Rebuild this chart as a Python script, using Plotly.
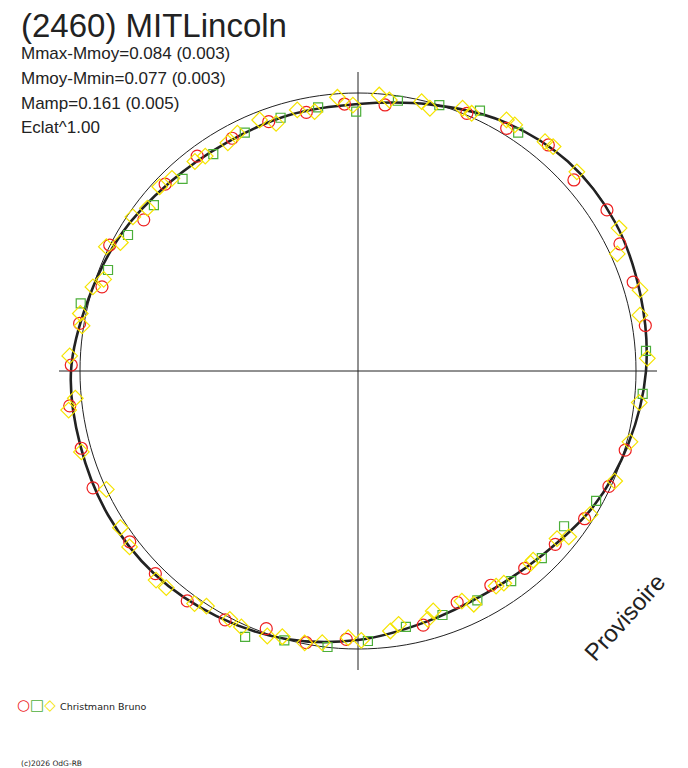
import numpy as np
from plotly import graph_objects as go

# fitted lightcurve, read every 15 deg (angle in deg, radius in plot units)
curve_angle = [0, 15, 30, 45, 60, 75, 90, 105, 120, 135, 150, 165,
               180, 195, 210, 225, 240, 255, 270, 285, 300, 315, 330, 345]
curve_r = [288, 292.5, 297, 296.5, 288.5, 276, 267, 265, 263.5, 266.5, 273.5, 279,
           287, 287.5, 288.5, 287.5, 283, 277.5, 269, 260, 256.5, 260.5, 271.5, 280]

ref_r = 278  # mean level circle
axis_r = 299

# session 1 - red circles
red_angle = [178.8, 170.3, 161.8, 153.1, 144.8, 135.9, 126.8, 118.4, 109.7, 101.3, 92.9,
             84.2, 67.1, 58.5, 49.9, 41.5, 32.9, 25.9, 17.9, 9.0,
             343.5, 335.3, 326.9, 318.7, 310.2, 301.8, 293.2, 284.4,
             186.9, 195.6, 203.8, 216.8, 225.0, 233.4, 241.9, 250.4, 259.2, 267.5]
red_r = [286.8, 282.4, 269.5, 278.4, 262.2, 268.5, 268.4, 264.6, 264.8, 263.8, 267.3,
         267.4, 279.7, 284.6, 295.5, 288.3, 296.5, 291.2, 289.2, 290.9,
         278.7, 276.2, 270.5, 262.6, 258.3, 252.1, 251.7, 262.3,
         290.4, 287.3, 289.6, 285.1, 286.6, 286.4, 282.1, 273.5, 276.6, 268.6]

# session 2 - green squares
green_angle = [166.3, 158.0, 149.4, 140.9, 132.4, 123.7, 115.4, 107.0, 98.6, 90.4,
               81.6, 73.0, 64.9, 56.1, 4.0, 355.4,
               331.4, 323.0, 314.5, 306.1, 297.5, 289.1, 280.6, 272.1,
               247.0, 254.7, 263.7]
green_r = [285.4, 269.6, 267.2, 263.0, 260.2, 260.8, 263.9, 264.8, 266.7, 259.3,
           273.2, 278.1, 287.5, 287.2, 288.7, 285.6,
           271.2, 258.0, 262.3, 260.0, 258.5, 258.2, 260.4, 270.2,
           288.9, 279.2, 277.7]

# session 3 - yellow diamonds
yellow_angle = [177.0, 168.3, 170.7, 162.4, 160.2, 153.7, 151.6, 145.6, 142.3, 137.1, 134.0,
                127.9, 125.4, 119.7, 116.9, 111.4, 108.3, 103.1, 99.5, 94.3, 91.1,
                85.6, 83.4, 76.7, 74.7, 68.3, 66.2, 59.4, 57.5, 50.8, 49.0, 42.3,
                28.7, 24.3, 19.8, 16.0, 11.2, 2.5,
                353.6, 345.4, 336.8, 328.3, 321.8, 319.9, 312.8, 311.9, 304.5, 302.7,
                296.4, 294.3, 287.4, 285.7, 279.1, 277.1, 270.7,
                185.5, 187.7, 196.3, 205.2, 213.4, 217.6, 226.0, 228.5, 234.9, 237.2,
                242.7, 245.5, 251.1, 254.1, 258.9, 262.5, 267.9]
yellow_r = [288.7, 283.6, 279.6, 278.1, 270.3, 280.7, 270.1, 272.8, 266.2, 270.7, 267.8,
            265.5, 263.7, 262.7, 266.6, 269.6, 260.8, 268.0, 262.9, 274.5, 266.0,
            276.8, 272.8, 276.7, 272.4, 282.8, 281.7, 291.7, 291.8, 295.9, 297.4, 295.9,
            297.6, 284.5, 302.7, 293.4, 287.4, 289.6,
            283.0, 281.0, 279.3, 272.9, 268.2, 260.2, 257.8, 258.5, 257.5, 255.6,
            260.4, 252.4, 251.5, 258.0, 256.6, 262.0, 269.3,
            284.0, 292.0, 288.2, 278.1, 284.7, 288.3, 290.7, 289.3, 284.3, 279.7,
            279.5, 281.3, 280.1, 276.3, 277.0, 274.0, 266.9]

title = "(2460) MITLincoln"
info_lines = ["Mmax-Mmoy=0.084 (0.003)", "Mmoy-Mmin=0.077 (0.003)",
              "Mamp=0.161 (0.005)", "Eclat^1.00"]
observer = "Christmann Bruno"

RED, GREEN, YELLOW = "#ee2020", "#4caf3a", "#f5e400"

# the page body has an 8px margin, so positions below are shifted by it
OFF = 8
W, H = 680, 760
ink = "#222222"


def px(x):
    return (x - OFF) / W


def py(y):
    return 1 - (y - OFF) / H


fig = go.Figure()

ref_theta = np.linspace(0, 360, 181)
fig.add_trace(go.Scatterpolar(
    r=[ref_r] * len(ref_theta), theta=ref_theta, mode="lines",
    line=dict(color=ink, width=1), hoverinfo="skip"))

fig.add_trace(go.Scatterpolar(
    r=curve_r + curve_r[:1], theta=curve_angle + [360], mode="lines",
    line=dict(color=ink, width=2.6, shape="spline"), hoverinfo="skip"))

fig.add_trace(go.Scatterpolar(
    r=green_r, theta=green_angle, mode="markers", cliponaxis=False,
    marker=dict(symbol="square-open", size=9, color=GREEN, line=dict(width=1.2))))
fig.add_trace(go.Scatterpolar(
    r=red_r, theta=red_angle, mode="markers", cliponaxis=False,
    marker=dict(symbol="circle-open", size=12, color=RED, line=dict(width=1.2))))
fig.add_trace(go.Scatterpolar(
    r=yellow_r, theta=yellow_angle, mode="markers", cliponaxis=False,
    marker=dict(symbol="diamond-open", size=12, color=YELLOW, line=dict(width=1.2))))

fig.update_layout(
    width=W, height=H,
    margin=dict(l=0, r=0, t=0, b=0),
    paper_bgcolor="white",
    showlegend=False,
    font=dict(family="Liberation Sans, Arial, sans-serif", color=ink),
    polar=dict(
        domain=dict(x=[px(59), px(657)], y=[py(670), py(72)]),
        bgcolor="white",
        radialaxis=dict(range=[0, axis_r], visible=False, showgrid=False),
        angularaxis=dict(
            tickmode="array", tickvals=[0, 90, 180, 270],
            showticklabels=False, ticks="", showline=False,
            showgrid=True, gridcolor=ink, gridwidth=1),
    ),
)

ann = []
ann.append(dict(text=title, x=px(19), y=py(25), font=dict(size=33)))
for i, line in enumerate(info_lines):
    ann.append(dict(text=line, x=px(19), y=py(54 + 24.5 * i), font=dict(size=17)))

# legend row: the three session symbols in one text
symbols = (f'<span style="color:{RED}">○</span>'
           f'<span style="color:{GREEN}">□</span>'
           f'<span style="color:{YELLOW}">◇</span>')
ann.append(dict(text=symbols, x=px(15), y=py(705),
                font=dict(size=15, family="DejaVu Sans")))
ann.append(dict(text=observer, x=px(58), y=py(706),
                font=dict(size=9.5, family="DejaVu Sans")))
ann.append(dict(text="(c)2026 OdG-RB", x=px(19), y=py(763),
                font=dict(size=7.5, family="DejaVu Sans")))

for a in ann:
    a.update(xref="paper", yref="paper", xanchor="left", yanchor="middle",
             showarrow=False)
    fig.add_annotation(**a)

fig.add_annotation(text="Provisoire", x=px(624), y=py(617), xref="paper", yref="paper",
                   xanchor="center", yanchor="middle",
                   showarrow=False, textangle=-48, font=dict(size=24))

fig.write_html("out.html")
